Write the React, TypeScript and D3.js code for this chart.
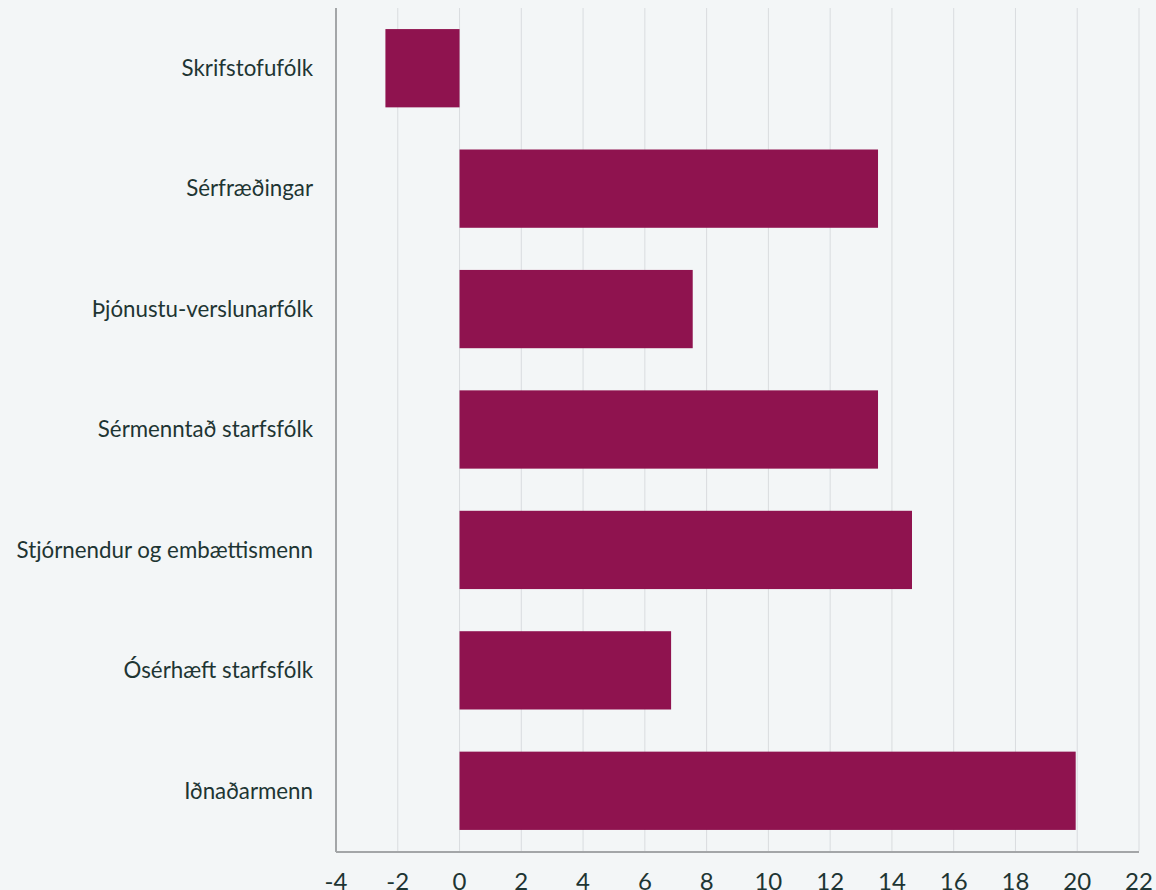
import React, { useEffect, useRef } from "react";
import * as d3 from "d3";

const categories = [
  "Skrifstofufólk",
  "Sérfræðingar",
  "Þjónustu-verslunarfólk",
  "Sérmenntað starfsfólk",
  "Stjórnendur og embættismenn",
  "Ósérhæft starfsfólk",
  "Iðnaðarmenn",
];
const values = [-2.4, 13.55, 7.55, 13.55, 14.65, 6.85, 19.95];
const xTicks = [-4, -2, 0, 2, 4, 6, 8, 10, 12, 14, 16, 18, 20, 22];

const W = 1156;
const H = 890;
const BG = "#f3f6f7";
const BAR = "#8f134f";
const TEXT = "#1e3533";
const FONT = "Lato, 'Open Sans', sans-serif";

export default function App() {
  const svgRef = useRef<SVGSVGElement | null>(null);

  useEffect(() => {
    document.body.style.margin = "0";
    document.body.style.background = BG;

    const m = { top: 8, right: 17, bottom: 39, left: 336 };
    const svg = d3.select(svgRef.current).attr("width", W).attr("height", H);
    svg.selectAll("*").remove();

    svg.append("rect").attr("width", W).attr("height", H).attr("fill", BG);

    const x = d3.scaleLinear().domain([-4, 22]).range([m.left, W - m.right]);
    const y = d3
      .scaleBand<string>()
      .domain(categories)
      .range([m.top, H - m.bottom])
      .paddingInner(0.35)
      .paddingOuter(0.175);

    const g = svg.append("g");

    // grid
    g.append("g")
      .selectAll("line")
      .data(xTicks.slice(1))
      .join("line")
      .attr("x1", (d) => x(d))
      .attr("x2", (d) => x(d))
      .attr("y1", m.top)
      .attr("y2", H - m.bottom)
      .attr("stroke", "#d9dcdf")
      .attr("stroke-width", 1);

    // bars
    g.append("g")
      .selectAll("rect")
      .data(categories)
      .join("rect")
      .attr("x", (d, i) => x(Math.min(0, values[i])))
      .attr("width", (d, i) => Math.abs(x(values[i]) - x(0)))
      .attr("y", (d) => y(d) as number)
      .attr("height", y.bandwidth())
      .attr("fill", BAR);

    // axis lines
    g.append("line")
      .attr("x1", m.left)
      .attr("x2", m.left)
      .attr("y1", m.top)
      .attr("y2", H - m.bottom + 1)
      .attr("stroke", "#a3a6a8")
      .attr("stroke-width", 2);
    g.append("line")
      .attr("x1", m.left)
      .attr("x2", x(22))
      .attr("y1", H - m.bottom + 1)
      .attr("y2", H - m.bottom + 1)
      .attr("stroke", "#a3a6a8")
      .attr("stroke-width", 2);

    // category labels
    g.append("g")
      .selectAll("text")
      .data(categories)
      .join("text")
      .attr("x", m.left - 23)
      .attr("y", (d) => (y(d) as number) + y.bandwidth() / 2)
      .attr("dy", "0.35em")
      .attr("text-anchor", "end")
      .attr("font-family", FONT)
      .attr("font-size", 22.3)
      .attr("fill", TEXT)
      .text((d) => d);

    // tick labels
    g.append("g")
      .selectAll("text")
      .data(xTicks)
      .join("text")
      .attr("x", (d) => x(d))
      .attr("y", H - m.bottom + 39)
      .attr("text-anchor", "middle")
      .attr("font-family", FONT)
      .attr("font-size", 24)
      .attr("fill", TEXT)
      .text((d) => String(d));
  }, []);

  return (
    <div style={{ position: "absolute", left: 0, top: 0 }}>
      <svg ref={svgRef} style={{ display: "block" }} />
    </div>
  );
}
